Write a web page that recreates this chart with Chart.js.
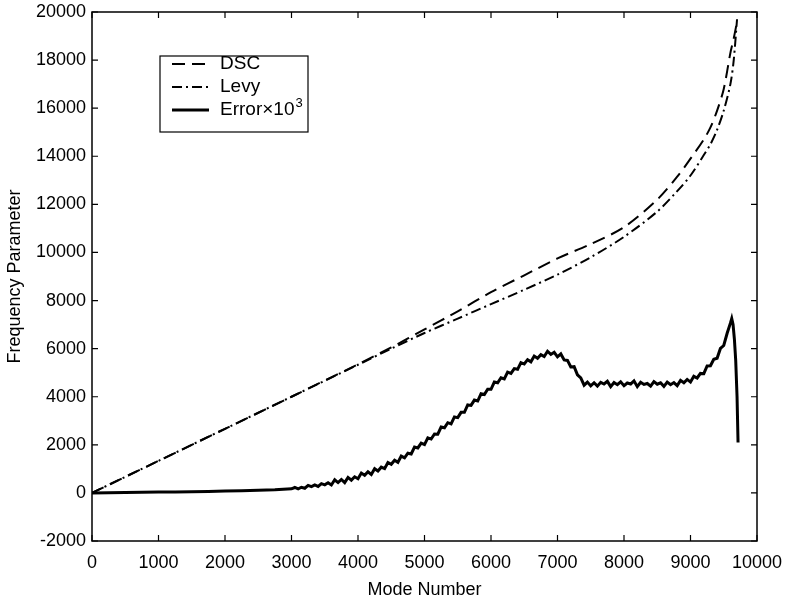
<!DOCTYPE html>
<html>
<head>
<meta charset="utf-8">
<script src="https://cdn.jsdelivr.net/npm/chart.js@4/dist/chart.umd.min.js"></script>
<style>
  html, body { margin: 0; padding: 0; background: #fff; }
  #wrap { width: 787px; height: 605px; }
</style>
</head>
<body>
<div id="wrap"><canvas id="myChart" width="787" height="605"></canvas></div>
<script>
const ctx = document.getElementById('myChart');

// mode numbers and frequency parameters
const dscModes = [0, 1000, 2000, 3000, 4000, 4500, 5000, 5500, 6000, 6500, 7000, 7500, 8000, 8500, 8800, 9000, 9200, 9300, 9400, 9500, 9600, 9650, 9700];
const dscValues = [0, 1333, 2666, 4000, 5350, 6050, 6800, 7550, 8350, 9050, 9750, 10350, 11050, 12200, 13150, 13900, 14700, 15200, 15900, 16800, 18300, 18900, 19600];
const levyValues = [0, 1333, 2666, 4000, 5330, 6000, 6650, 7250, 7850, 8450, 9080, 9800, 10650, 11700, 12550, 13200, 14050, 14500, 15100, 15900, 17000, 18000, 19700];

const errModes = [0, 250, 500, 750, 1000, 1250, 1500, 1750, 2000, 2250, 2500, 2750, 3000,
    3050, 3100, 3150, 3200, 3250, 3300, 3350, 3400, 3450, 3500,
    3550, 3600, 3650, 3700, 3750, 3800, 3850, 3900, 3950, 4000,
    4050, 4100, 4150, 4200, 4250, 4300, 4350, 4400, 4450, 4500,
    4550, 4600, 4650, 4700, 4750, 4800, 4850, 4900, 4950, 5000,
    5050, 5100, 5150, 5200, 5250, 5300, 5350, 5400, 5450, 5500,
    5550, 5600, 5650, 5700, 5750, 5800, 5850, 5900, 5950, 6000,
    6050, 6100, 6150, 6200, 6250, 6300, 6350, 6400, 6450, 6500,
    6550, 6600, 6650, 6700, 6750, 6800, 6850, 6900, 6950, 7000,
    7050, 7100, 7150, 7200, 7250, 7300, 7350, 7400, 7450, 7500,
    7550, 7600, 7650, 7700, 7750, 7800, 7850, 7900, 7950, 8000,
    8050, 8100, 8150, 8200, 8250, 8300, 8350, 8400, 8450, 8500,
    8550, 8600, 8650, 8700, 8750, 8800, 8850, 8900, 8950, 9000,
    9050, 9100, 9150, 9200, 9250, 9300, 9350, 9400, 9450, 9500,
    9550, 9600, 9620, 9640, 9660, 9680, 9700, 9715];
const errValues = [0, 10, 20, 25, 35, 40, 50, 60, 80, 90, 110, 130, 170,
    225, 165, 235, 195, 310, 260, 330, 270, 385, 335,
    425, 330, 545, 430, 560, 430, 645, 530, 670, 590,
    825, 730, 880, 770, 1005, 910, 1070, 1010, 1265, 1190,
    1360, 1270, 1530, 1460, 1650, 1620, 1910, 1870, 2070, 2010,
    2290, 2240, 2450, 2440, 2740, 2710, 2920, 2870, 3160, 3130,
    3350, 3350, 3660, 3640, 3860, 3820, 4120, 4090, 4310, 4310,
    4610, 4580, 4790, 4740, 5020, 4970, 5170, 5140, 5420, 5360,
    5540, 5450, 5690, 5600, 5750, 5670, 5890, 5760, 5850, 5660,
    5780, 5530, 5510, 5240, 5250, 4910, 4780, 4480, 4610, 4450,
    4580, 4440, 4600, 4530, 4640, 4420, 4590, 4500, 4620, 4460,
    4570, 4530, 4660, 4420, 4600, 4510, 4550, 4440, 4630, 4520,
    4580, 4430, 4610, 4500, 4590, 4460, 4680, 4580, 4720, 4610,
    4850, 4780, 4970, 4960, 5280, 5290, 5560, 5600, 6010, 6130,
    6630, 7060, 7250, 7000, 6400, 5500, 4000, 2100];

const xTicks = [0, 1000, 2000, 3000, 4000, 5000, 6000, 7000, 8000, 9000, 10000];
const yTicks = [-2000, 0, 2000, 4000, 6000, 8000, 10000, 12000, 14000, 16000, 18000, 20000];

const FONT = '"Liberation Sans", Arial, Helvetica, sans-serif';

const pts = (xs, ys) => xs.map((x, i) => ({ x: x, y: ys[i] }));

// box round the plot with inward ticks on all four sides
const framePlugin = {
    id: 'frame',
    afterDatasetsDraw(chart) {
        const c = chart.ctx;
        const a = chart.chartArea;
        const sx = chart.scales.x, sy = chart.scales.y;
        c.save();
        c.strokeStyle = '#000';
        c.lineWidth = 1.5;
        c.strokeRect(a.left, a.top, a.right - a.left, a.bottom - a.top);
        c.lineWidth = 1.2;
        c.beginPath();
        xTicks.forEach(v => {
            const px = sx.getPixelForValue(v);
            c.moveTo(px, a.bottom); c.lineTo(px, a.bottom - 6);
            c.moveTo(px, a.top); c.lineTo(px, a.top + 6);
        });
        yTicks.forEach(v => {
            const py = sy.getPixelForValue(v);
            c.moveTo(a.left, py); c.lineTo(a.left + 6, py);
            c.moveTo(a.right, py); c.lineTo(a.right - 6, py);
        });
        c.stroke();
        c.restore();
    }
};

// legend box inside the plot, upper left
const legendPlugin = {
    id: 'boxLegend',
    afterDraw(chart) {
        const c = chart.ctx;
        const left = 160, top = 56, w = 148, h = 76;
        c.save();
        c.fillStyle = '#fff';
        c.fillRect(left, top, w, h);
        c.strokeStyle = '#000';
        c.lineWidth = 1.2;
        c.strokeRect(left, top, w, h);
        c.font = '19px ' + FONT;
        c.textBaseline = 'middle';
        c.fillStyle = '#000';
        const rows = [64, 87, 110];
        chart.data.datasets.forEach((ds, i) => {
            c.beginPath();
            c.lineWidth = ds.borderWidth;
            c.setLineDash(ds.borderDash || []);
            c.moveTo(172, rows[i]);
            c.lineTo(209, rows[i]);
            c.stroke();
            c.setLineDash([]);
        });
        c.fillText('DSC', 220, rows[0]);
        c.fillText('Levy', 220, rows[1]);
        const base = 'Error\u00d710';
        c.fillText(base, 220, rows[2]);
        const bw = c.measureText(base).width;
        c.font = '13px ' + FONT;
        c.fillText('3', 220 + bw + 1, rows[2] - 7);
        c.restore();
    }
};

new Chart(ctx, {
    type: 'line',
    data: {
        datasets: [
            {
                label: 'DSC',
                data: pts(dscModes, dscValues),
                borderColor: '#000',
                borderWidth: 2,
                borderDash: [13, 7],
                pointRadius: 0,
                tension: 0.3,
            },
            {
                label: 'Levy',
                data: pts(dscModes, levyValues),
                borderColor: '#000',
                borderWidth: 2,
                borderDash: [10, 4, 2, 4],
                pointRadius: 0,
                tension: 0.3,
            },
            {
                label: 'Error\u00d710^3',
                data: pts(errModes, errValues),
                borderColor: '#000',
                borderWidth: 3,
                pointRadius: 0,
                tension: 0,
            },
        ]
    },
    options: {
        responsive: false,
        animation: false,
        events: [],
        layout: {
            padding: { top: 12, right: 30, left: 0, bottom: 0 }
        },
        plugins: {
            legend: { display: false },
            tooltip: { enabled: false },
        },
        scales: {
            x: {
                type: 'linear',
                min: 0,
                max: 10000,
                afterBuildTicks: (scale) => { scale.ticks = xTicks.map(v => ({ value: v })); },
                afterFit: (scale) => {
                    scale.height = 64;
                    scale.paddingLeft = 0;
                    scale.paddingRight = 0;
                },
                grid: { display: false, tickLength: 0 },
                border: { display: false },
                ticks: {
                    color: '#000',
                    font: { family: FONT, size: 18 },
                    padding: 11,
                    maxRotation: 0,
                    callback: (v) => String(v),
                },
                title: {
                    display: true,
                    text: 'Mode Number',
                    color: '#000',
                    font: { family: FONT, size: 18 },
                    padding: { top: 0, bottom: 4 },
                }
            },
            y: {
                type: 'linear',
                min: -2000,
                max: 20000,
                afterBuildTicks: (scale) => { scale.ticks = yTicks.map(v => ({ value: v })); },
                afterFit: (scale) => {
                    scale.width = 92;
                    scale.paddingTop = 0;
                    scale.paddingBottom = 0;
                },
                grid: { display: false, tickLength: 0 },
                border: { display: false },
                ticks: {
                    color: '#000',
                    font: { family: FONT, size: 18 },
                    padding: 6,
                    callback: (v) => String(v),
                },
                title: {
                    display: true,
                    text: 'Frequency Parameter',
                    color: '#000',
                    font: { family: FONT, size: 18 },
                    padding: { top: 4, bottom: 0 },
                }
            }
        }
    },
    plugins: [framePlugin, legendPlugin]
});
</script>
</body>
</html>
